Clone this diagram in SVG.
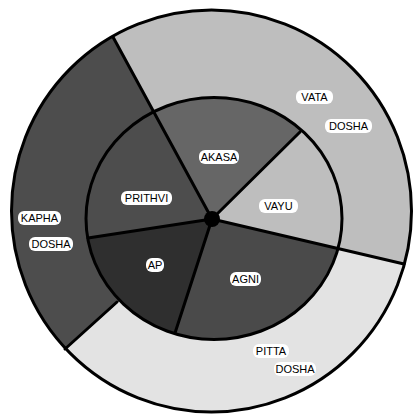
<svg xmlns="http://www.w3.org/2000/svg" width="414" height="416" viewBox="0 0 414 416">
<style>
.lbl rect{fill:#fff;stroke:none}
.lbl text{font-family:"Liberation Sans",Arial,sans-serif;font-size:11px;fill:#000;text-anchor:middle;dominant-baseline:central}
.line{stroke:#000;stroke-width:3;fill:none;stroke-linecap:round}
</style>
<defs>
<clipPath id="outerClip"><ellipse cx="211.5" cy="211" rx="200" ry="201"/></clipPath>
<clipPath id="innerClip"><ellipse cx="214" cy="218.5" rx="128" ry="121"/></clipPath>
</defs>
<rect width="414" height="416" fill="#fff"/>
<g clip-path="url(#outerClip)">
<g id="kapha"><polygon points="212,219 -85,-327 -300,-327 -300,612 -229,612" fill="#4d4d4d"/></g>
<g id="vata"><polygon points="212,219 -85,-327 803,-327 803,357" fill="#bebebe"/></g>
<g id="pitta"><polygon points="212,219 803,357 803,612 -229,612" fill="#e3e3e3"/></g>
</g>
<g clip-path="url(#innerClip)">
<g id="akasa"><polygon points="212,219 -85,-327 476,-327 476,-42" fill="#666"/></g>
<g id="vayu"><polygon points="212,219 476,-42 803,-42 803,357" fill="#bebebe"/></g>
<g id="agni"><polygon points="212,219 803,357 803,561 101,561" fill="#4a4a4a"/></g>
<g id="ap"><polygon points="212,219 101,561 -160,561 -160,276" fill="#2f2f2f"/></g>
<g id="prithvi"><polygon points="212,219 -160,276 -160,-327 -85,-327" fill="#4d4d4d"/></g>
</g>
<g id="connectors">
<ellipse class="line" cx="211.5" cy="211" rx="200" ry="201"/>
<ellipse class="line" cx="214" cy="218.5" rx="128" ry="121"/>
<line class="line" x1="212" y1="219" x2="113" y2="37"/>
<line class="line" x1="212" y1="219" x2="300" y2="132"/>
<line class="line" x1="212" y1="219" x2="404" y2="264"/>
<line class="line" x1="212" y1="219" x2="175" y2="333"/>
<line class="line" x1="212" y1="219" x2="88" y2="238"/>
<line class="line" x1="117" y1="302" x2="65" y2="349"/>
<circle cx="212" cy="219" r="8" fill="#000"/>
</g>
<g class="lbl">
<g id="lbl-vata"><rect x="296" y="90" width="37" height="14" rx="6"/><text x="314.5" y="97">VATA</text></g>
<g id="lbl-vata-dosha"><rect x="325" y="119" width="47" height="14" rx="6"/><text x="348.5" y="126">DOSHA</text></g>
<g id="lbl-akasa"><rect x="199" y="150" width="40" height="14" rx="6"/><text x="219" y="157">AKASA</text></g>
<g id="lbl-prithvi"><rect x="121" y="191" width="51" height="14" rx="6"/><text x="146.5" y="198">PRITHVI</text></g>
<g id="lbl-vayu"><rect x="259" y="199" width="39" height="14" rx="6"/><text x="278.5" y="206">VAYU</text></g>
<g id="lbl-kapha"><rect x="18" y="211" width="43" height="14" rx="6"/><text x="39.5" y="218">KAPHA</text></g>
<g id="lbl-kapha-dosha"><rect x="29" y="237" width="44" height="14" rx="6"/><text x="51" y="244">DOSHA</text></g>
<g id="lbl-ap"><rect x="146" y="258" width="18" height="14" rx="6"/><text x="155" y="265">AP</text></g>
<g id="lbl-agni"><rect x="230" y="272" width="31" height="14" rx="6"/><text x="245.5" y="279">AGNI</text></g>
<g id="lbl-pitta"><rect x="253" y="344" width="36" height="14" rx="6"/><text x="271" y="351">PITTA</text></g>
<g id="lbl-pitta-dosha"><rect x="274" y="362" width="42" height="14" rx="6"/><text x="295" y="369">DOSHA</text></g>
</g>
</svg>
